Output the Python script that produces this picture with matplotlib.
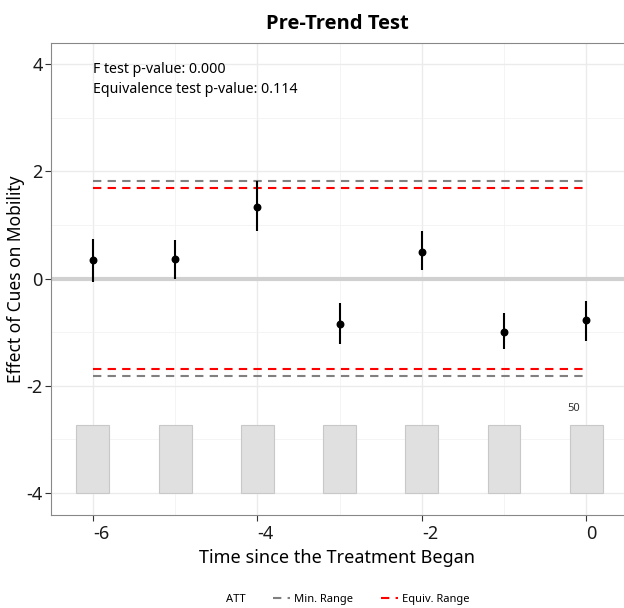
import matplotlib.pyplot as plt
from matplotlib.lines import Line2D
from matplotlib.ticker import MultipleLocator

plt.rcParams['font.family'] = ['Noto Sans', 'DejaVu Sans']
plt.rcParams['axes.unicode_minus'] = False

# Pre-period estimates
periods = [-6, -5, -4, -3, -2, -1, 0]
att = [0.34, 0.37, 1.34, -0.84, 0.50, -0.99, -0.78]
ci_low = [-0.06, 0.00, 0.88, -1.23, 0.15, -1.32, -1.16]
ci_high = [0.73, 0.71, 1.81, -0.45, 0.88, -0.65, -0.41]

min_range = 1.81
equiv_range = 1.68

# count bars at the bottom
counts = [50, 50, 50, 50, 50, 50, 50]
bar_bottom = -4.0
bar_top = -2.73

fig = plt.figure(figsize=(6.24, 6.08), dpi=100)
ax = fig.add_axes([0.0817, 0.153, 0.9183, 0.776])

ax.set_xlim(-6.51, 0.46)
ax.set_ylim(-4.41, 4.39)

# grid like theme_bw
ax.xaxis.set_major_locator(MultipleLocator(2))
ax.xaxis.set_minor_locator(MultipleLocator(1))
ax.yaxis.set_major_locator(MultipleLocator(2))
ax.yaxis.set_minor_locator(MultipleLocator(1))
ax.grid(which='major', color='#ebebeb', linewidth=1.0)
ax.grid(which='minor', color='#f2f2f2', linewidth=0.6)
ax.set_axisbelow(True)

# zero line
ax.axhline(0, color='#d0d0d0', linewidth=3, zorder=1)

# count bars
ax.bar(periods, [bar_top - bar_bottom] * len(periods), bottom=bar_bottom, width=0.4,
       color='#e0e0e0', edgecolor='#c8c8c8', linewidth=0.8, zorder=2)
ax.text(periods[-1] - 0.15, bar_top + 0.3, str(counts[-1]), fontsize=8,
        color='#333333', ha='center', va='center')

# range lines
x0, x1 = periods[0], periods[-1]
ax.hlines([min_range, -min_range], x0, x1, colors='#808080', linestyles=(0, (4, 3)),
          linewidth=1.5, zorder=3)
ax.hlines([equiv_range, -equiv_range], x0, x1, colors='#ff0000', linestyles=(0, (4, 3)),
          linewidth=1.5, zorder=3)

# estimates
ax.vlines(periods, ci_low, ci_high, colors='black', linewidth=1.5, zorder=4)
ax.scatter(periods, att, color='black', s=22, zorder=5)

ax.text(-6, 3.89, 'F test p-value: 0.000', fontsize=10.2, ha='left', va='center')
ax.text(-6, 3.52, 'Equivalence test p-value: 0.114', fontsize=10.2, ha='left', va='center')

ax.set_title('Pre-Trend Test', fontsize=14.5, fontweight='bold', pad=10,
             family=['Open Sans', 'DejaVu Sans'])
ax.set_xlabel('Time since the Treatment Began', fontsize=13)
ax.set_ylabel('Effect of Cues on Mobility', fontsize=12.5, labelpad=1)
ax.tick_params(which='major', labelsize=13, length=4, color='#333333', labelcolor='#1a1a1a')
ax.tick_params(axis='y', which='major', pad=2)
ax.tick_params(which='minor', length=0)
for lab in ax.get_xticklabels():
    lab.set_horizontalalignment('left')

for s in ax.spines.values():
    s.set_color('#888888')
ax.spines['right'].set_visible(False)

handles = [
    Line2D([], [], linestyle='none', label='ATT'),
    Line2D([], [], color='#808080', linestyle=(0, (4, 3)), linewidth=1.5, label='Min. Range'),
    Line2D([], [], color='#ff0000', linestyle=(0, (4, 3)), linewidth=1.5, label='Equiv. Range'),
]
fig.legend(handles=handles, loc='lower center', bbox_to_anchor=(0.54, -0.012), ncol=3,
           frameon=False, fontsize=8, handlelength=1.5, handletextpad=0.4, columnspacing=2.5)

fig.savefig('out.png', dpi=100)
